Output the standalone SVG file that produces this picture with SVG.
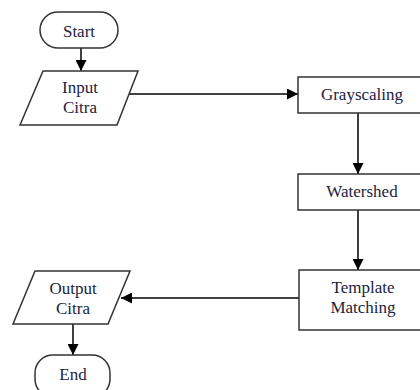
<svg xmlns="http://www.w3.org/2000/svg" width="420" height="390" viewBox="0 0 420 390">
<style>
.s{fill:#fff;stroke:#333;stroke-width:1.5}
.t{font-family:'Liberation Serif','Times New Roman',serif;font-size:17px;fill:#1c2340;text-anchor:middle}
.c{stroke:#000;stroke-width:1.5;fill:none}
</style>
<defs>
<marker id="a" viewBox="0 0 10 10" refX="10" refY="5" markerWidth="11" markerHeight="11" markerUnits="userSpaceOnUse" orient="auto">
<path d="M0,0 L10,5 L0,10 Z" fill="#000"/>
</marker>
</defs>
<rect width="420" height="390" fill="#fff"/>
<g id="connectors">
<line class="c" x1="81" y1="48" x2="81" y2="71" marker-end="url(#a)"/>
<line class="c" x1="129" y1="94" x2="298" y2="94" marker-end="url(#a)"/>
<line class="c" x1="358" y1="113" x2="358" y2="174" marker-end="url(#a)"/>
<line class="c" x1="358" y1="210" x2="358" y2="270" marker-end="url(#a)"/>
<line class="c" x1="299" y1="298" x2="121" y2="298" marker-end="url(#a)"/>
<line class="c" x1="73" y1="324" x2="73" y2="355" marker-end="url(#a)"/>
</g>
<g id="start">
<rect class="s" x="40" y="12" width="78" height="36" rx="18"/>
<text class="t" x="79" y="37">Start</text>
</g>
<g id="input">
<polygon class="s" points="43,71 138,71 117,125 20,125"/>
<text class="t" x="80" y="93">Input</text>
<text class="t" x="80" y="113">Citra</text>
</g>
<g id="grayscaling">
<rect class="s" x="298" y="77" width="130" height="36"/>
<text class="t" x="362" y="100">Grayscaling</text>
</g>
<g id="watershed">
<rect class="s" x="298" y="174" width="130" height="36"/>
<text class="t" x="362" y="197">Watershed</text>
</g>
<g id="template">
<rect class="s" x="299" y="270" width="130" height="60"/>
<text class="t" x="363" y="293">Template</text>
<text class="t" x="363" y="313">Matching</text>
</g>
<g id="output">
<polygon class="s" points="35,271 130,271 108,324 13,324"/>
<text class="t" x="73" y="294">Output</text>
<text class="t" x="73" y="314">Citra</text>
</g>
<g id="end">
<rect class="s" x="35" y="355" width="75" height="42" rx="18"/>
<text class="t" x="73" y="380">End</text>
</g>
</svg>
